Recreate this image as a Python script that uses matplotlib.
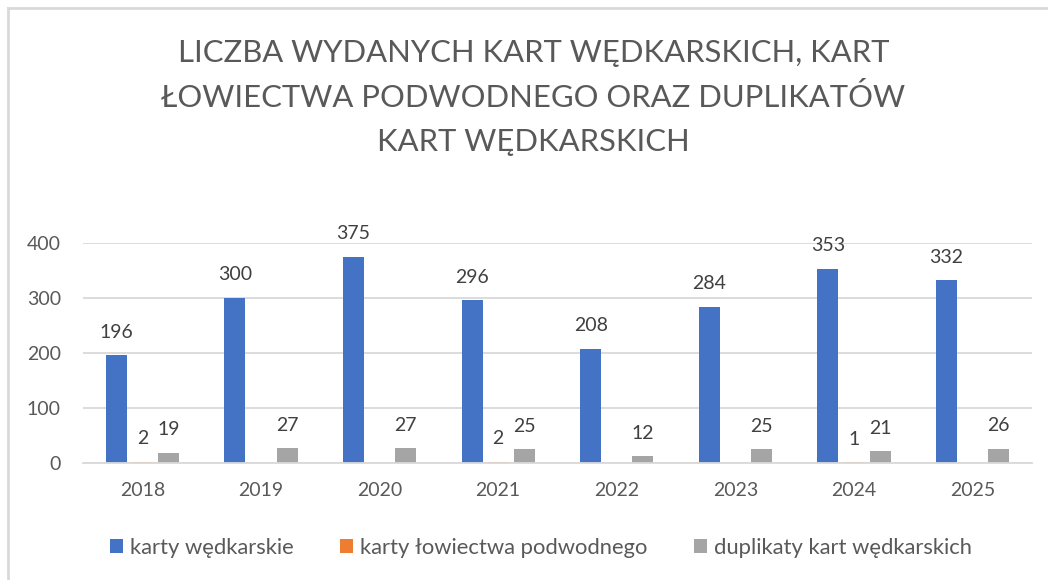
import numpy as np
import matplotlib.pyplot as plt
from matplotlib.lines import Line2D

years = ['2018', '2019', '2020', '2021', '2022', '2023', '2024', '2025']
karty_wedkarskie = [196, 300, 375, 296, 208, 284, 353, 332]
karty_lowiectwa = [2, 0, 0, 2, 0, 0, 1, 0]
duplikaty = [19, 27, 27, 25, 12, 25, 21, 26]

series_names = ['karty wędkarskie', 'karty łowiectwa podwodnego', 'duplikaty kart wędkarskich']
colors = ['#4472C4', '#ED7D31', '#A5A5A5']

title = ('LICZBA WYDANYCH KART WĘDKARSKICH, KART\n'
         'ŁOWIECTWA PODWODNEGO ORAZ DUPLIKATÓW\n'
         'KART WĘDKARSKICH')

plt.rcParams['font.family'] = ['Lato', 'DejaVu Sans']

fig = plt.figure(figsize=(10.48, 5.8), dpi=100)
ax = fig.add_axes([0.0792, 0.2017, 0.9055, 0.3793])

x = np.arange(len(years))
width = 0.177
step = 0.22
for i, (vals, color, name) in enumerate(zip([karty_wedkarskie, karty_lowiectwa, duplikaty],
                                            colors, series_names)):
    bars = ax.bar(x + (i - 1) * step, vals, width, color=color, label=name, zorder=2)
    for b, v in zip(bars, vals):
        if v:
            ax.annotate(str(v), (b.get_x() + b.get_width() / 2, v),
                        xytext=(0, 10.5), textcoords='offset points',
                        ha='center', va='bottom', fontsize=14, color='#404040')

ax.set_xlim(-0.5, len(years) - 0.5)
ax.set_ylim(0, 400)
ax.set_yticks([0, 100, 200, 300, 400])
ax.set_xticks(x)
ax.set_xticklabels(years)
ax.tick_params(axis='both', length=0, labelsize=14, labelcolor='#595959')
ax.tick_params(axis='y', pad=16)
ax.tick_params(axis='x', pad=14)
ax.grid(axis='y', color='#D9D9D9', linewidth=1.3, zorder=0)
ax.set_axisbelow(True)
for side in ['top', 'right', 'left']:
    ax.spines[side].set_visible(False)
ax.spines['bottom'].set_color('#D9D9D9')
ax.spines['bottom'].set_linewidth(1.3)

fig.text(0.509, 1 - 39 / 580, title, ha='center', va='top', fontsize=22.3,
         color='#595959', linespacing=1.68)

ax.legend(loc='center', bbox_to_anchor=(0.516, 0.055), bbox_transform=fig.transFigure,
          ncol=3, frameon=False, fontsize=15.8, labelcolor='#595959',
          handlelength=0.6, handleheight=0.6, handletextpad=0.33, columnspacing=2.1)

# chart frame (left and top edges)
fig.add_artist(Line2D([7.5 / 1048, 7.5 / 1048], [0, 1 - 8 / 580], color='#D9D9D9', linewidth=2))
fig.add_artist(Line2D([7.5 / 1048, 1], [1 - 8 / 580, 1 - 8 / 580], color='#D9D9D9', linewidth=2))

fig.savefig('out.png', dpi=100)
